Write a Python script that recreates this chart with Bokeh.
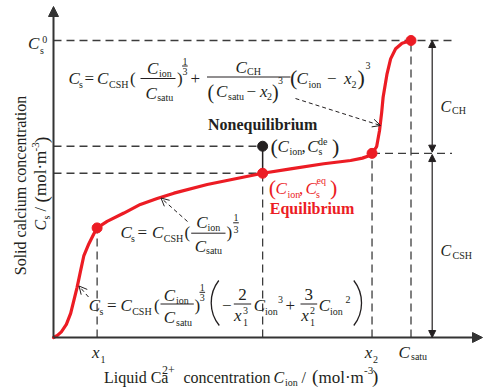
from math import pi

from bokeh.embed import file_html
from bokeh.models import Arrow, Label, NormalHead, OpenHead, Range1d
from bokeh.plotting import figure
from bokeh.resources import INLINE

# Equilibrium curve: liquid Ca2+ concentration (C_satu = 1) vs solid calcium (C_s^0 = 1)
c_ion = [0.000, 0.011, 0.022, 0.036, 0.048, 0.057, 0.066, 0.076, 0.085, 0.099,
         0.113, 0.122, 0.150, 0.197, 0.243, 0.290, 0.337, 0.430, 0.523, 0.585,
         0.663, 0.756, 0.831, 0.864, 0.881, 0.891, 0.904, 0.912, 0.918, 0.922,
         0.933, 0.943, 0.957, 0.975, 1.000]
c_solid = [0.000, 0.007, 0.019, 0.044, 0.081, 0.125, 0.169, 0.226, 0.276, 0.316,
           0.349, 0.369, 0.391, 0.419, 0.448, 0.468, 0.486, 0.515, 0.538, 0.553,
           0.568, 0.585, 0.596, 0.604, 0.611, 0.620, 0.643, 0.697, 0.758, 0.809,
           0.888, 0.938, 0.972, 0.991, 1.000]

# characteristic points
x1, x_eq, x2, c_satu = 0.122, 0.585, 0.891, 1.000
cs_x1, cs_eq, cs_x2, cs0 = 0.369, 0.553, 0.620, 1.000
cs_de = 0.644

W, H = 483, 387
X0, XS = 53.0, 357.5      # canvas pixel of C_ion = 0, pixels per unit
Y0, YS = 337.0, 297.0     # canvas pixel of C_s = 0, pixels per unit

FONT = "Liberation Serif"
INK = "#231f20"
RED = "#ec1c24"
DASH = "#3c3c3c"
BASE_K = 0.29             # label anchor sits this many em below the drawn baseline


def dx(px):
    return (px - X0) / XS


def dy(py):
    return (Y0 - py) / YS


def px_of(x):
    return X0 + XS * x


def py_of(y):
    return Y0 - YS * y


p = figure(width=W, height=H, x_range=Range1d(dx(0), dx(W)), y_range=Range1d(dy(H), dy(0)),
           x_axis_type=None, y_axis_type=None, toolbar_location=None,
           output_backend="svg", min_border=0, outline_line_color=None,
           background_fill_color="white", border_fill_color="white")


def put(txt, px, py, size=17, style="normal", color=INK, align="left", angle=0.0):
    if angle:
        px -= BASE_K * size
    else:
        py -= BASE_K * size
    p.add_layout(Label(x=dx(px), y=dy(py), text=txt, text_font=FONT,
                       text_font_size=f"{size}px", text_font_style=style,
                       text_color=color, text_align=align,
                       text_baseline="alphabetic", angle=angle))


bars = dict(x0=[], y0=[], x1=[], y1=[])


def bar(pxa, pxb, py):
    bars["x0"].append(dx(pxa)); bars["x1"].append(dx(pxb))
    bars["y0"].append(dy(py)); bars["y1"].append(dy(py))


def small_frac(cx, py_top, py_bar, py_bot, half=2.8, size=10):
    put("1", cx, py_top, size, align="center")
    bar(cx - half, cx + half, py_bar)
    put("3", cx, py_bot, size, align="center")


# ---- guide lines -------------------------------------------------------
dim_x = dx(431.7)
right_end = dx(451.5)
p.segment(x0=[0, x2, 0, 0, x1, x_eq, x2, c_satu],
          y0=[cs0, cs_x2, cs_de, cs_eq, 0, 0, 0, 0],
          x1=[right_end, right_end, x_eq, x_eq, x1, x_eq, x2, c_satu],
          y1=[cs0, cs_x2, cs_de, cs_eq, cs_x1, cs_eq, cs_x2, cs0],
          line_color=DASH, line_width=1.3, line_dash="8 5")
p.segment(x0=[x_eq], y0=[cs_de], x1=[x_eq], y1=[cs_eq], line_color=INK, line_width=1.5)

# axes with arrow heads
p.add_layout(Arrow(x_start=0, y_start=0, x_end=0, y_end=dy(6), line_color="#333333",
                   line_width=2, end=NormalHead(size=10, fill_color="#333333",
                                                line_color="#333333")))
p.add_layout(Arrow(x_start=0, y_start=0, x_end=dx(482), y_end=0, line_color="#333333",
                   line_width=2, end=NormalHead(size=10, fill_color="#333333",
                                                line_color="#333333")))

# dimension arrows for C_CH and C_CSH
gap = 1.2 / YS
for ya, yb in [(cs0, cs_x2 + gap), (cs_x2 - gap, 0)]:
    p.add_layout(Arrow(x_start=dim_x, y_start=ya, x_end=dim_x, y_end=yb,
                       line_color=INK, line_width=1.2,
                       start=NormalHead(size=7, fill_color=INK, line_color=INK),
                       end=NormalHead(size=7, fill_color=INK, line_color=INK)))

# ---- curve and points --------------------------------------------------
p.line(c_ion, c_solid, line_color=RED, line_width=3.2, line_join="round", line_cap="round")
p.scatter([x1, x_eq, x2, c_satu], [cs_x1, cs_eq, cs_x2, cs0], size=10,
          fill_color=RED, line_color=RED)
p.scatter([x_eq], [cs_de], size=10, fill_color=INK, line_color=INK)

# dashed leader arrows from formulas to the curve
for (ax, ay, bx, by) in [(295, 98, 380, 125), (187, 221, 160.5, 197.5), (88, 296.5, 78.5, 285.5)]:
    p.add_layout(Arrow(x_start=dx(ax), y_start=dy(ay), x_end=dx(bx), y_end=dy(by),
                       line_color=INK, line_width=1, line_dash="4 3",
                       end=OpenHead(size=8, line_color=INK, line_width=1)))

# ---- formula 1 (C_ion > x2) --------------------------------------------
put("C", 68, 83, style="italic"); put("s", 78.5, 87, 10)
put("=", 84, 83)
put("C", 96.5, 83, style="italic"); put("CSH", 108.5, 87, 10)
put("(", 129.5, 83)
bar(140, 175, 78)
put("C", 146.5, 73.3, style="italic"); put("ion", 158.5, 75.8, 10)
put("C", 145, 97.5, style="italic"); put("satu", 156.7, 100, 10)
put(")", 176.5, 83)
small_frac(184.4, 63.5, 65.5, 74)
put("+", 190, 83)
bar(206.5, 290, 76.5)
put("C", 235, 71.7, style="italic"); put("CH", 246.5, 74.2, 10)
put("(", 207, 97, 20)
put("C", 215.5, 95.5, style="italic"); put("satu", 227.5, 98.5, 10)
put("\u2212", 246, 95.5)
put("x", 259.5, 95.5, style="italic"); put("2", 266.5, 98.5, 10)
put(")", 271.5, 97, 20); put("3", 277.5, 83, 10)
put("(", 289.5, 83, 22)
put("C", 296, 83, style="italic"); put("ion", 308, 86.5, 10)
put("\u2212", 326.5, 83)
put("x", 343.5, 83, style="italic"); put("2", 351, 86.5, 10)
put(")", 357, 83, 22); put("3", 365, 68, 10)

# ---- formula 2 (x1 < C_ion < x2) ---------------------------------------
put("C", 120, 236.7, style="italic"); put("s", 130.5, 240.5, 10)
put("=", 137, 236.7)
put("C", 151.5, 236.7, style="italic"); put("CSH", 163.3, 240.5, 10)
put("(", 184, 236.7)
bar(190.7, 225, 232.7)
put("C", 195.7, 227, style="italic"); put("ion", 207, 229.5, 10)
put("C", 194.3, 250.5, style="italic"); put("satu", 205.5, 253, 10)
put(")", 226, 236.7)
small_frac(235.5, 220, 222.3, 231.7)

# ---- formula 3 (C_ion < x1) --------------------------------------------
put("C", 88.3, 310, style="italic"); put("s", 99, 313.5, 10)
put("=", 106.5, 310)
put("C", 120, 310, style="italic"); put("CSH", 131.7, 313.5, 10)
put("(", 153.5, 310)
bar(160, 193.3, 303.5)
put("C", 163.3, 300, style="italic"); put("ion", 175.5, 302.5, 10)
put("C", 163.3, 321.7, style="italic"); put("satu", 175.5, 324.5, 10)
put(")", 194, 310)
small_frac(201.8, 290, 291.8, 300.2)
put("\u2212", 221.5, 310)
bar(233.3, 250.7, 303.5)
put("2", 242, 299.3, align="center")
put("x", 233.5, 320, style="italic"); put("3", 242.5, 313.3, 10); put("1", 242.5, 325, 10)
put("C", 253.3, 310, style="italic"); put("ion", 264.5, 313.5, 10); put("3", 277.5, 301.5, 10)
put("+", 285, 310)
bar(300, 316.7, 303.5)
put("3", 308.3, 299.3, align="center")
put("x", 300.7, 320, style="italic"); put("2", 309.5, 313.3, 10); put("1", 309.5, 325, 10)
put("C", 318.3, 310, style="italic"); put("ion", 329.5, 313.5, 10); put("2", 345, 301.5, 10)

# tall brackets around the polynomial
lp = (218.3, 280, 218.8, 325, 208.1)
rp = (353.3, 280, 353.3, 325, 363.6)
p.bezier(x0=[dx(lp[0]), dx(rp[0])], y0=[dy(lp[1]), dy(rp[1])],
         x1=[dx(lp[2]), dx(rp[2])], y1=[dy(lp[3]), dy(rp[3])],
         cx0=[dx(lp[4]), dx(rp[4])], cy0=[dy(293), dy(293)],
         cx1=[dx(lp[4]), dx(rp[4])], cy1=[dy(312), dy(312)],
         line_color=INK, line_width=1.3)

p.segment(x0="x0", y0="y0", x1="x1", y1="y1", source=bars, line_color=INK, line_width=1)

# ---- point annotations -------------------------------------------------
put("Nonequilibrium", px_of(x_eq), 129, 16, style="bold", align="center")
put("(", 270, 152.5, 22)
put("C", 277, 150.5, style="italic"); put("ion", 289, 153.5, 10)
put(",", 301, 150.5)
put("C", 306.7, 150.5, style="italic"); put("de", 317.5, 144, 10); put("s", 318, 153.5, 10)
put(")", 331.5, 152.5, 22)

put("(", 268.3, 193, 22, color=RED)
put("C", 275, 193.3, style="italic", color=RED); put("ion", 287, 196.5, 10, color=RED)
put(",", 298.5, 193.3, color=RED)
put("C", 305, 193.3, style="italic", color=RED); put("eq", 316, 182.5, 10, color=RED)
put("s", 315.5, 196.5, 10, color=RED)
put(")", 329.5, 193, 22, color=RED)
put("Equilibrium", 269.3, 213, 16, style="bold", color=RED)

# ---- axis marks ----------------------------------------------------------
put("C", 27.5, 48.3, style="italic"); put("s", 39.5, 53, 10); put("0", 41.7, 41.7, 10)
put("x", px_of(x1) - 5, 356.7, style="italic"); put("1", px_of(x1) + 3.5, 361.7, 10)
put("x", px_of(x2) - 7.3, 356.7, style="italic"); put("2", px_of(x2) + 1, 361.7, 10)
put("C", px_of(c_satu) - 12.5, 356.7, style="italic"); put("satu", px_of(c_satu), 358.8, 10)

put("C", 440, 110.5, 16, style="italic"); put("CH", 451.5, 113, 10)
put("C", 440, 255, 16, style="italic"); put("CSH", 452, 257.5, 10)

# axis titles
put("Liquid Ca", 103.5, 382, 16); put("2+", 161.5, 372.5, 12)
put("concentration", 183, 382, 16)
put("C", 273, 382, 16, style="italic"); put("ion", 284.5, 385, 10)
put("/", 301, 382, 16)
put("(", 311.5, 382, 19); put("mol\u00b7m", 318, 382, 17)
put("-3", 363.5, 373, 11); put(")", 371.5, 382, 19)

put("Solid calcium concentration", 25, 185, 16, align="center", angle=pi / 2)
put("C", 45, 230, 16, style="italic", angle=pi / 2)
put("s", 48.5, 219, 10, angle=pi / 2)
put("/", 45, 211, 16, angle=pi / 2)
put("(", 46.5, 202, 19, angle=pi / 2)
put("mol\u00b7m", 45, 195.5, 17, angle=pi / 2)
put("-3", 38.5, 151, 11, angle=pi / 2)
put(")", 46.5, 142.5, 19, angle=pi / 2)

open("out.html", "w").write(file_html(p, INLINE))
